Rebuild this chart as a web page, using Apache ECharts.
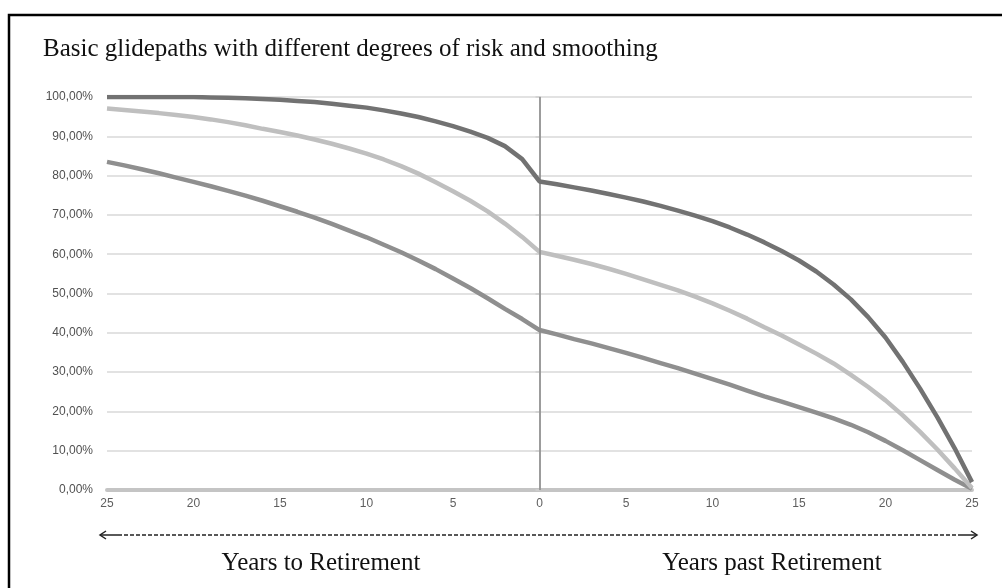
<!DOCTYPE html>
<html>
<head>
<meta charset="utf-8">
<script src="https://cdn.jsdelivr.net/npm/echarts@6/dist/echarts.min.js"></script>
<style>
  html, body { margin: 0; padding: 0; background: #fff; }
  #main { width: 1002px; height: 588px; }
</style>
</head>
<body>
<div id="main"></div>
<script>
// years relative to retirement (negative = before)
const years = [-25,-24,-23,-22,-21,-20,-19,-18,-17,-16,-15,-14,-13,-12,-11,-10,-9,-8,-7,-6,-5,-4,-3,-2,-1,
  0,1,2,3,4,5,6,7,8,9,10,11,12,13,14,15,16,17,18,19,20,21,22,23,24,25];
const yTicks = [0,10,20,30,40,50,60,70,80,90,100];

const highRisk = [100,100,100,100,100,100,99.9,99.8,99.7,99.5,99.3,99,98.7,98.3,97.8,97.3,96.6,95.8,94.9,93.8,92.6,91.2,89.6,87.5,84.2,
  78.5,77.8,77,76.2,75.3,74.4,73.4,72.3,71.1,69.8,68.4,66.8,65,63,60.8,58.4,55.6,52.3,48.5,44,38.8,32.6,25.8,18.5,10.6,2];
const midRisk = [97.1,96.7,96.3,95.9,95.4,94.9,94.3,93.6,92.8,91.9,91.1,90.2,89.2,88.1,86.9,85.6,84.1,82.4,80.5,78.3,76,73.6,70.9,67.8,64.4,
  60.6,59.6,58.6,57.5,56.3,55,53.6,52.2,50.8,49.2,47.5,45.6,43.6,41.4,39.3,37,34.7,32.2,29.3,26.2,22.8,19,14.8,10.3,5.5,0.5];
const lowRisk = [83.5,82.6,81.6,80.6,79.5,78.4,77.3,76.1,74.9,73.6,72.2,70.8,69.3,67.7,66,64.3,62.4,60.5,58.4,56.2,53.8,51.4,48.8,46.1,43.5,
  40.7,39.6,38.4,37.3,36.1,34.9,33.6,32.3,31,29.6,28.2,26.8,25.3,23.8,22.5,21.1,19.7,18.2,16.6,14.7,12.5,10.1,7.6,5.1,2.6,0.3];

const seriesData = [
  { name: "Low risk", data: lowRisk, color: "#8f8f8f" },
  { name: "Medium risk", data: midRisk, color: "#bfbfbf" },
  { name: "High risk", data: highRisk, color: "#727272" }
];

const series = seriesData.map(({ name, data, color }, i) => ({
  name,
  type: "line",
  data: years.map((y, k) => [y, data[k]]),
  showSymbol: false,
  lineStyle: { color, width: 4.5 },
  z: 3 + i,
  markLine: i === 0 ? {
    silent: true,
    symbol: "none",
    label: { show: false },
    lineStyle: { color: "#8a8a8a", width: 1.5, type: "solid" },
    data: [{ xAxis: 0 }]
  } : undefined
}));

const serif = "'Liberation Serif', 'Times New Roman', serif";
const sans = "'Liberation Sans', Arial, sans-serif";

const options = {
  animation: false,
  title: {
    text: "Basic glidepaths with different degrees of risk and smoothing",
    left: 38,
    top: 32,
    textStyle: { fontFamily: serif, fontSize: 25, fontWeight: "normal", color: "#111" }
  },
  grid: { left: 107, right: 30, top: 97, bottom: 98 },
  xAxis: {
    type: "value",
    min: -25,
    max: 25,
    interval: 5,
    axisLine: { lineStyle: { color: "#c4c4c4", width: 4 } },
    axisTick: { show: false },
    splitLine: { show: false },
    axisLabel: {
      formatter: (v) => String(Math.abs(v)),
      color: "#5e5e5e",
      fontFamily: sans,
      fontSize: 12,
      margin: 8
    }
  },
  yAxis: {
    type: "value",
    min: yTicks[0],
    max: yTicks[yTicks.length - 1],
    interval: 10,
    axisLine: { show: true, lineStyle: { color: "#c4c4c4", width: 1.5 } },
    axisTick: { show: true, length: 4, lineStyle: { color: "#d0d0d0", width: 1.5 } },
    splitLine: { lineStyle: { color: "#d9d9d9", width: 1.5 } },
    axisLabel: {
      formatter: (v) => v.toFixed(2).replace(".", ",") + "%",
      color: "#505050",
      fontFamily: sans,
      fontSize: 12,
      margin: 14
    }
  },
  graphic: [
    {
      type: "rect",
      shape: { x: 9, y: 15, width: 1100, height: 700 },
      style: { fill: "none", stroke: "#000", lineWidth: 2.5 },
      silent: true
    },
    {
      type: "line",
      shape: { x1: 118, y1: 535, x2: 958, y2: 535 },
      style: { stroke: "#222", lineWidth: 1.5, lineDash: [4, 2] },
      silent: true
    },
    {
      type: "line",
      shape: { x1: 100, y1: 535, x2: 118, y2: 535 },
      style: { stroke: "#222", lineWidth: 1.5 },
      silent: true
    },
    {
      type: "line",
      shape: { x1: 958, y1: 535, x2: 977, y2: 535 },
      style: { stroke: "#222", lineWidth: 1.5 },
      silent: true
    },
    {
      type: "polyline",
      shape: { points: [[106, 531], [100, 535], [106, 539]] },
      style: { stroke: "#222", lineWidth: 1.5, fill: "none" },
      silent: true
    },
    {
      type: "polyline",
      shape: { points: [[971, 531], [977, 535], [971, 539]] },
      style: { stroke: "#222", lineWidth: 1.5, fill: "none" },
      silent: true
    },
    {
      type: "text",
      style: {
        text: "Years to Retirement",
        x: 321, y: 563,
        align: "center", verticalAlign: "middle",
        font: "25px " + serif, fill: "#111"
      },
      silent: true
    },
    {
      type: "text",
      style: {
        text: "Years past Retirement",
        x: 772, y: 563,
        align: "center", verticalAlign: "middle",
        font: "25px " + serif, fill: "#111"
      },
      silent: true
    }
  ],
  series
};

var myChart = echarts.init(document.getElementById("main"));
myChart.setOption(options);
window.onresize = function() {
  myChart.resize();
};
</script>
</body>
</html>
